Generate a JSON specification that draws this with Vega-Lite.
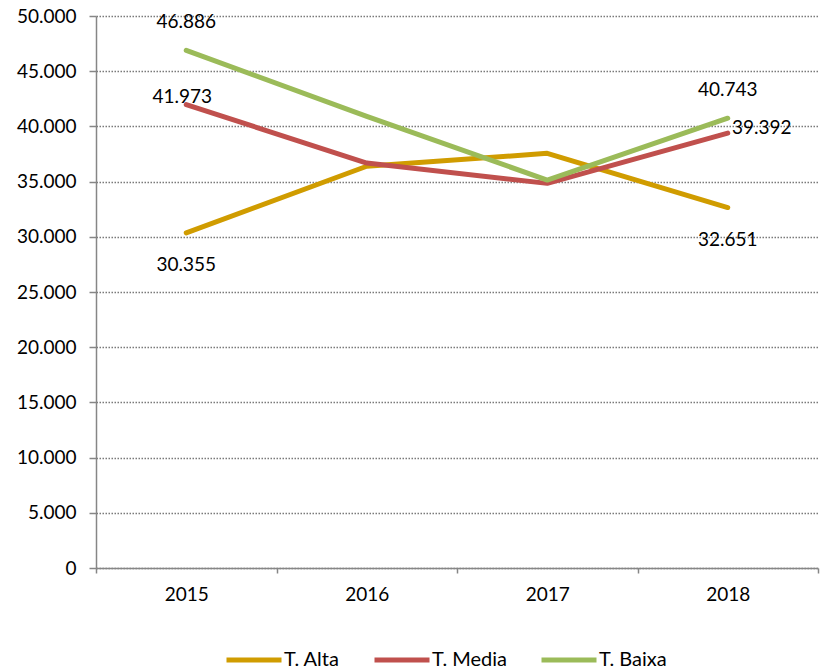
{
  "$schema": "https://vega.github.io/schema/vega-lite/v6.json",
  "autosize": {"type": "none"},
  "width": 722,
  "height": 552,
  "padding": {"left": 96, "top": 16, "right": 3, "bottom": 101},
  "background": "white",
  "config": {
    "locale": {"number": {"decimal": ",", "thousands": ".", "grouping": [3], "currency": ["", " €"]}},
    "font": "Lato",
    "view": {"stroke": null},
    "axis": {"labelFont": "Lato", "labelFontSize": 19, "labelColor": "#000000", "domainColor": "#868686", "tickColor": "#868686", "domainWidth": 1.5, "tickWidth": 1.5}
  },
  "data": {
    "values": [
      {"year": "2015", "series": "T. Alta", "value": 30355},
      {"year": "2016", "series": "T. Alta", "value": 36390},
      {"year": "2017", "series": "T. Alta", "value": 37560},
      {"year": "2018", "series": "T. Alta", "value": 32651},
      {"year": "2015", "series": "T. Media", "value": 41973},
      {"year": "2016", "series": "T. Media", "value": 36680},
      {"year": "2017", "series": "T. Media", "value": 34840},
      {"year": "2018", "series": "T. Media", "value": 39392},
      {"year": "2015", "series": "T. Baixa", "value": 46886},
      {"year": "2016", "series": "T. Baixa", "value": 40900},
      {"year": "2017", "series": "T. Baixa", "value": 35140},
      {"year": "2018", "series": "T. Baixa", "value": 40743}
    ]
  },
  "encoding": {
    "x": {
      "field": "year", "type": "ordinal", "title": null,
      "scale": {"paddingInner": 0, "paddingOuter": 0},
      "axis": {"labelAngle": 0, "tickBand": "extent", "tickSize": 5, "labelPadding": 12, "grid": false}
    },
    "y": {
      "field": "value", "type": "quantitative", "title": null,
      "scale": {"domain": [0, 50000], "nice": false},
      "axis": {"values": [0, 5000, 10000, 15000, 20000, 25000, 30000, 35000, 40000, 45000, 50000], "format": ",.0f", "tickSize": 7, "labelPadding": 13, "grid": true, "gridColor": "#7a7a7a", "gridDash": [1.5, 1.5], "gridWidth": 1.3}
    }
  },
  "layer": [
    {
      "mark": {"type": "line", "strokeWidth": 5, "strokeCap": "round", "strokeJoin": "round"},
      "encoding": {
        "color": {
          "field": "series", "type": "nominal", "title": null,
          "scale": {"domain": ["T. Alta", "T. Media", "T. Baixa"], "range": ["#D09C00", "#C0504D", "#9BBB59"]},
          "legend": {
            "orient": "none", "legendX": 128, "legendY": 614, "direction": "horizontal",
            "symbolType": "stroke", "symbolSize": 3025, "symbolStrokeWidth": 5,
            "labelFont": "Lato", "labelFontSize": 20, "labelColor": "#000000", "labelOffset": 0,
            "columnPadding": 24, "padding": 0
          }
        }
      }
    },
    {
      "transform": [{"filter": "datum.series == 'T. Baixa' && (datum.year == '2015' || datum.year == '2018')"}],
      "mark": {"type": "text", "dy": -28, "fontSize": 19, "font": "Lato", "color": "#000000", "baseline": "middle"},
      "encoding": {"text": {"field": "value", "type": "quantitative", "format": ",.0f"}}
    },
    {
      "transform": [{"filter": "datum.series == 'T. Media' && datum.year == '2015'"}],
      "mark": {"type": "text", "dx": -4, "dy": -8, "fontSize": 19, "font": "Lato", "color": "#000000", "baseline": "middle"},
      "encoding": {"text": {"field": "value", "type": "quantitative", "format": ",.0f"}}
    },
    {
      "transform": [{"filter": "datum.series == 'T. Alta' && (datum.year == '2015' || datum.year == '2018')"}],
      "mark": {"type": "text", "dy": 32, "fontSize": 19, "font": "Lato", "color": "#000000", "baseline": "middle"},
      "encoding": {"text": {"field": "value", "type": "quantitative", "format": ",.0f"}}
    },
    {
      "transform": [{"filter": "datum.series == 'T. Media' && datum.year == '2018'"}],
      "mark": {"type": "text", "dx": 34, "dy": -5, "fontSize": 19, "font": "Lato", "color": "#000000", "baseline": "middle"},
      "encoding": {"text": {"field": "value", "type": "quantitative", "format": ",.0f"}}
    }
  ]
}
